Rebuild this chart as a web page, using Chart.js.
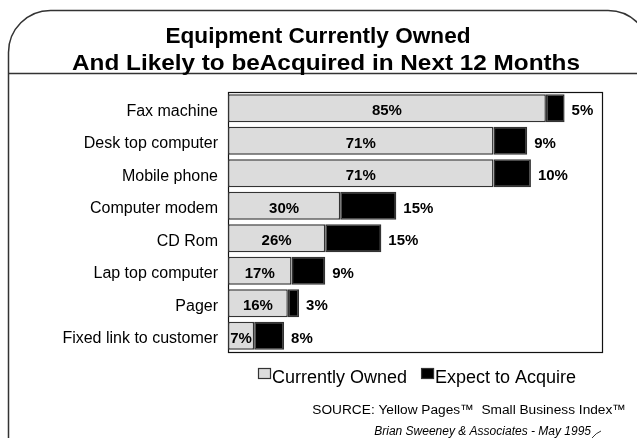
<!DOCTYPE html>
<html>
<head>
<meta charset="utf-8">
<script src="https://cdn.jsdelivr.net/npm/chart.js@4/dist/chart.umd.min.js"></script>
<style>
  html, body { margin: 0; padding: 0; background: #fff; }
  #wrap { width: 637px; height: 438px; position: relative; overflow: hidden; }
</style>
</head>
<body>
<div id="wrap"><canvas id="chart" width="637" height="438"></canvas></div>
<script>
// Survey results (percent of businesses)
const categories = [
  'Fax machine',
  'Desk top computer',
  'Mobile phone',
  'Computer modem',
  'CD Rom',
  'Lap top computer',
  'Pager',
  'Fixed link to customer'
];
const currentlyOwned = [85, 71, 71, 30, 26, 17, 16, 7];
const expectToAcquire = [5, 9, 10, 15, 15, 9, 3, 8];
const seriesNames = ['Currently Owned', 'Expect to Acquire'];
const titleLines = ['Equipment Currently Owned', 'And Likely to beAcquired in Next 12 Months'];
const sourceLine = 'SOURCE: Yellow Pages\u2122  Small Business Index\u2122';
const creditLine = 'Brian Sweeney & Associates - May 1995';

const FONT = '"Liberation Sans", Arial, Helvetica, sans-serif';

// Percent labels: owned share centred in its bar, planned share just past the bar end
const valueLabels = {
  id: 'valueLabels',
  afterDatasetsDraw(chart) {
    const ctx = chart.ctx;
    ctx.save();
    ctx.font = 'bold 15px ' + FONT;
    ctx.fillStyle = '#000';
    ctx.textBaseline = 'middle';
    const owned = chart.getDatasetMeta(0).data;
    const planned = chart.getDatasetMeta(1).data;
    owned.forEach((bar, i) => {
      ctx.textAlign = 'center';
      ctx.fillText(currentlyOwned[i] + '%', (bar.base + bar.x) / 2, bar.y + 3);
    });
    planned.forEach((bar, i) => {
      ctx.textAlign = 'left';
      ctx.fillText(expectToAcquire[i] + '%', bar.x + 7, bar.y + 3);
    });
    ctx.restore();
  }
};

// Draws a line of text squeezed or stretched to a given width around a centre x
function fitText(ctx, text, cx, y, width) {
  const w = ctx.measureText(text).width;
  ctx.save();
  ctx.translate(cx, y);
  ctx.scale(width / w, 1);
  ctx.textAlign = 'center';
  ctx.fillText(text, 0, 0);
  ctx.restore();
}

// Slide frame, heading, plot box, legend and source notes
const slideDecor = {
  id: 'slideDecor',
  beforeDraw(chart) {
    const ctx = chart.ctx;
    ctx.save();
    ctx.fillStyle = '#fff';
    ctx.fillRect(0, 0, chart.width, chart.height);
    ctx.restore();
  },
  beforeDatasetsDraw(chart) {
    const ctx = chart.ctx;
    const a = chart.chartArea;
    ctx.save();
    ctx.strokeStyle = '#111';
    ctx.lineWidth = 1.2;
    ctx.strokeRect(a.left + 0.5, a.top + 0.5, a.right - a.left, a.bottom - a.top);
    ctx.restore();
  },
  afterDraw(chart) {
    const ctx = chart.ctx;
    ctx.save();
    // rounded slide frame
    ctx.strokeStyle = '#333';
    ctx.lineWidth = 1.5;
    ctx.beginPath();
    ctx.moveTo(8.5, 480);
    ctx.lineTo(8.5, 52);
    ctx.arcTo(8.5, 10.5, 50, 10.5, 42);
    ctx.lineTo(608, 10.5);
    ctx.arcTo(650, 10.5, 650, 52, 42);
    ctx.lineTo(650, 480);
    ctx.stroke();
    // rule under the heading
    ctx.beginPath();
    ctx.moveTo(8, 73.5);
    ctx.lineTo(637, 73.5);
    ctx.stroke();
    // small corner stroke at bottom right
    ctx.lineWidth = 1;
    ctx.beginPath();
    ctx.moveTo(592, 438);
    ctx.quadraticCurveTo(596, 433, 601, 431);
    ctx.stroke();

    // heading
    ctx.fillStyle = '#000';
    ctx.textBaseline = 'alphabetic';
    ctx.font = 'bold 22px ' + FONT;
    fitText(ctx, titleLines[0], 318, 43, 305);
    fitText(ctx, titleLines[1], 326, 70, 508);

    // legend built from the dataset styles
    ctx.font = '18px ' + FONT;
    ctx.textAlign = 'left';
    let x = 258;
    chart.data.datasets.forEach(ds => {
      ctx.fillStyle = ds.backgroundColor;
      ctx.fillRect(x, 368, 12, 10);
      ctx.strokeStyle = ds.borderColor;
      ctx.lineWidth = 1.2;
      ctx.strokeRect(x + 0.5, 368.5, 12, 10);
      ctx.fillStyle = '#000';
      ctx.fillText(ds.label, x + 14, 383);
      x += 14 + ctx.measureText(ds.label).width + 14;
    });

    // source notes
    ctx.textAlign = 'right';
    ctx.font = '13.7px ' + FONT;
    ctx.fillText(sourceLine, 626, 414);
    ctx.font = 'italic 12px ' + FONT;
    ctx.fillText(creditLine, 591, 435);
    ctx.restore();
  }
};

new Chart(document.getElementById('chart'), {
  type: 'bar',
  data: {
    labels: categories,
    datasets: [
      {
        label: seriesNames[0],
        data: currentlyOwned,
        backgroundColor: '#dcdcdc',
        borderColor: '#333',
        borderWidth: 1.5,
        borderSkipped: false,
        barPercentage: 0.86,
        categoryPercentage: 1
      },
      {
        label: seriesNames[1],
        data: expectToAcquire,
        backgroundColor: '#000',
        borderColor: '#333',
        borderWidth: 1.5,
        borderSkipped: false,
        barPercentage: 0.86,
        categoryPercentage: 1
      }
    ]
  },
  options: {
    indexAxis: 'y',
    responsive: false,
    animation: false,
    devicePixelRatio: 1,
    layout: { padding: { top: 92, right: 35, bottom: 86, left: 0 } },
    scales: {
      x: { stacked: true, min: 0, max: 100, display: false },
      y: {
        stacked: true,
        grid: { display: false, drawTicks: false },
        border: { display: false },
        ticks: { color: '#000', padding: 10, labelOffset: 3, font: { family: FONT, size: 16 } },
        afterFit(scale) { scale.width = 228; }
      }
    },
    plugins: {
      legend: { display: false },
      tooltip: { enabled: false },
      title: { display: false }
    }
  },
  plugins: [slideDecor, valueLabels]
});
</script>
</body>
</html>
